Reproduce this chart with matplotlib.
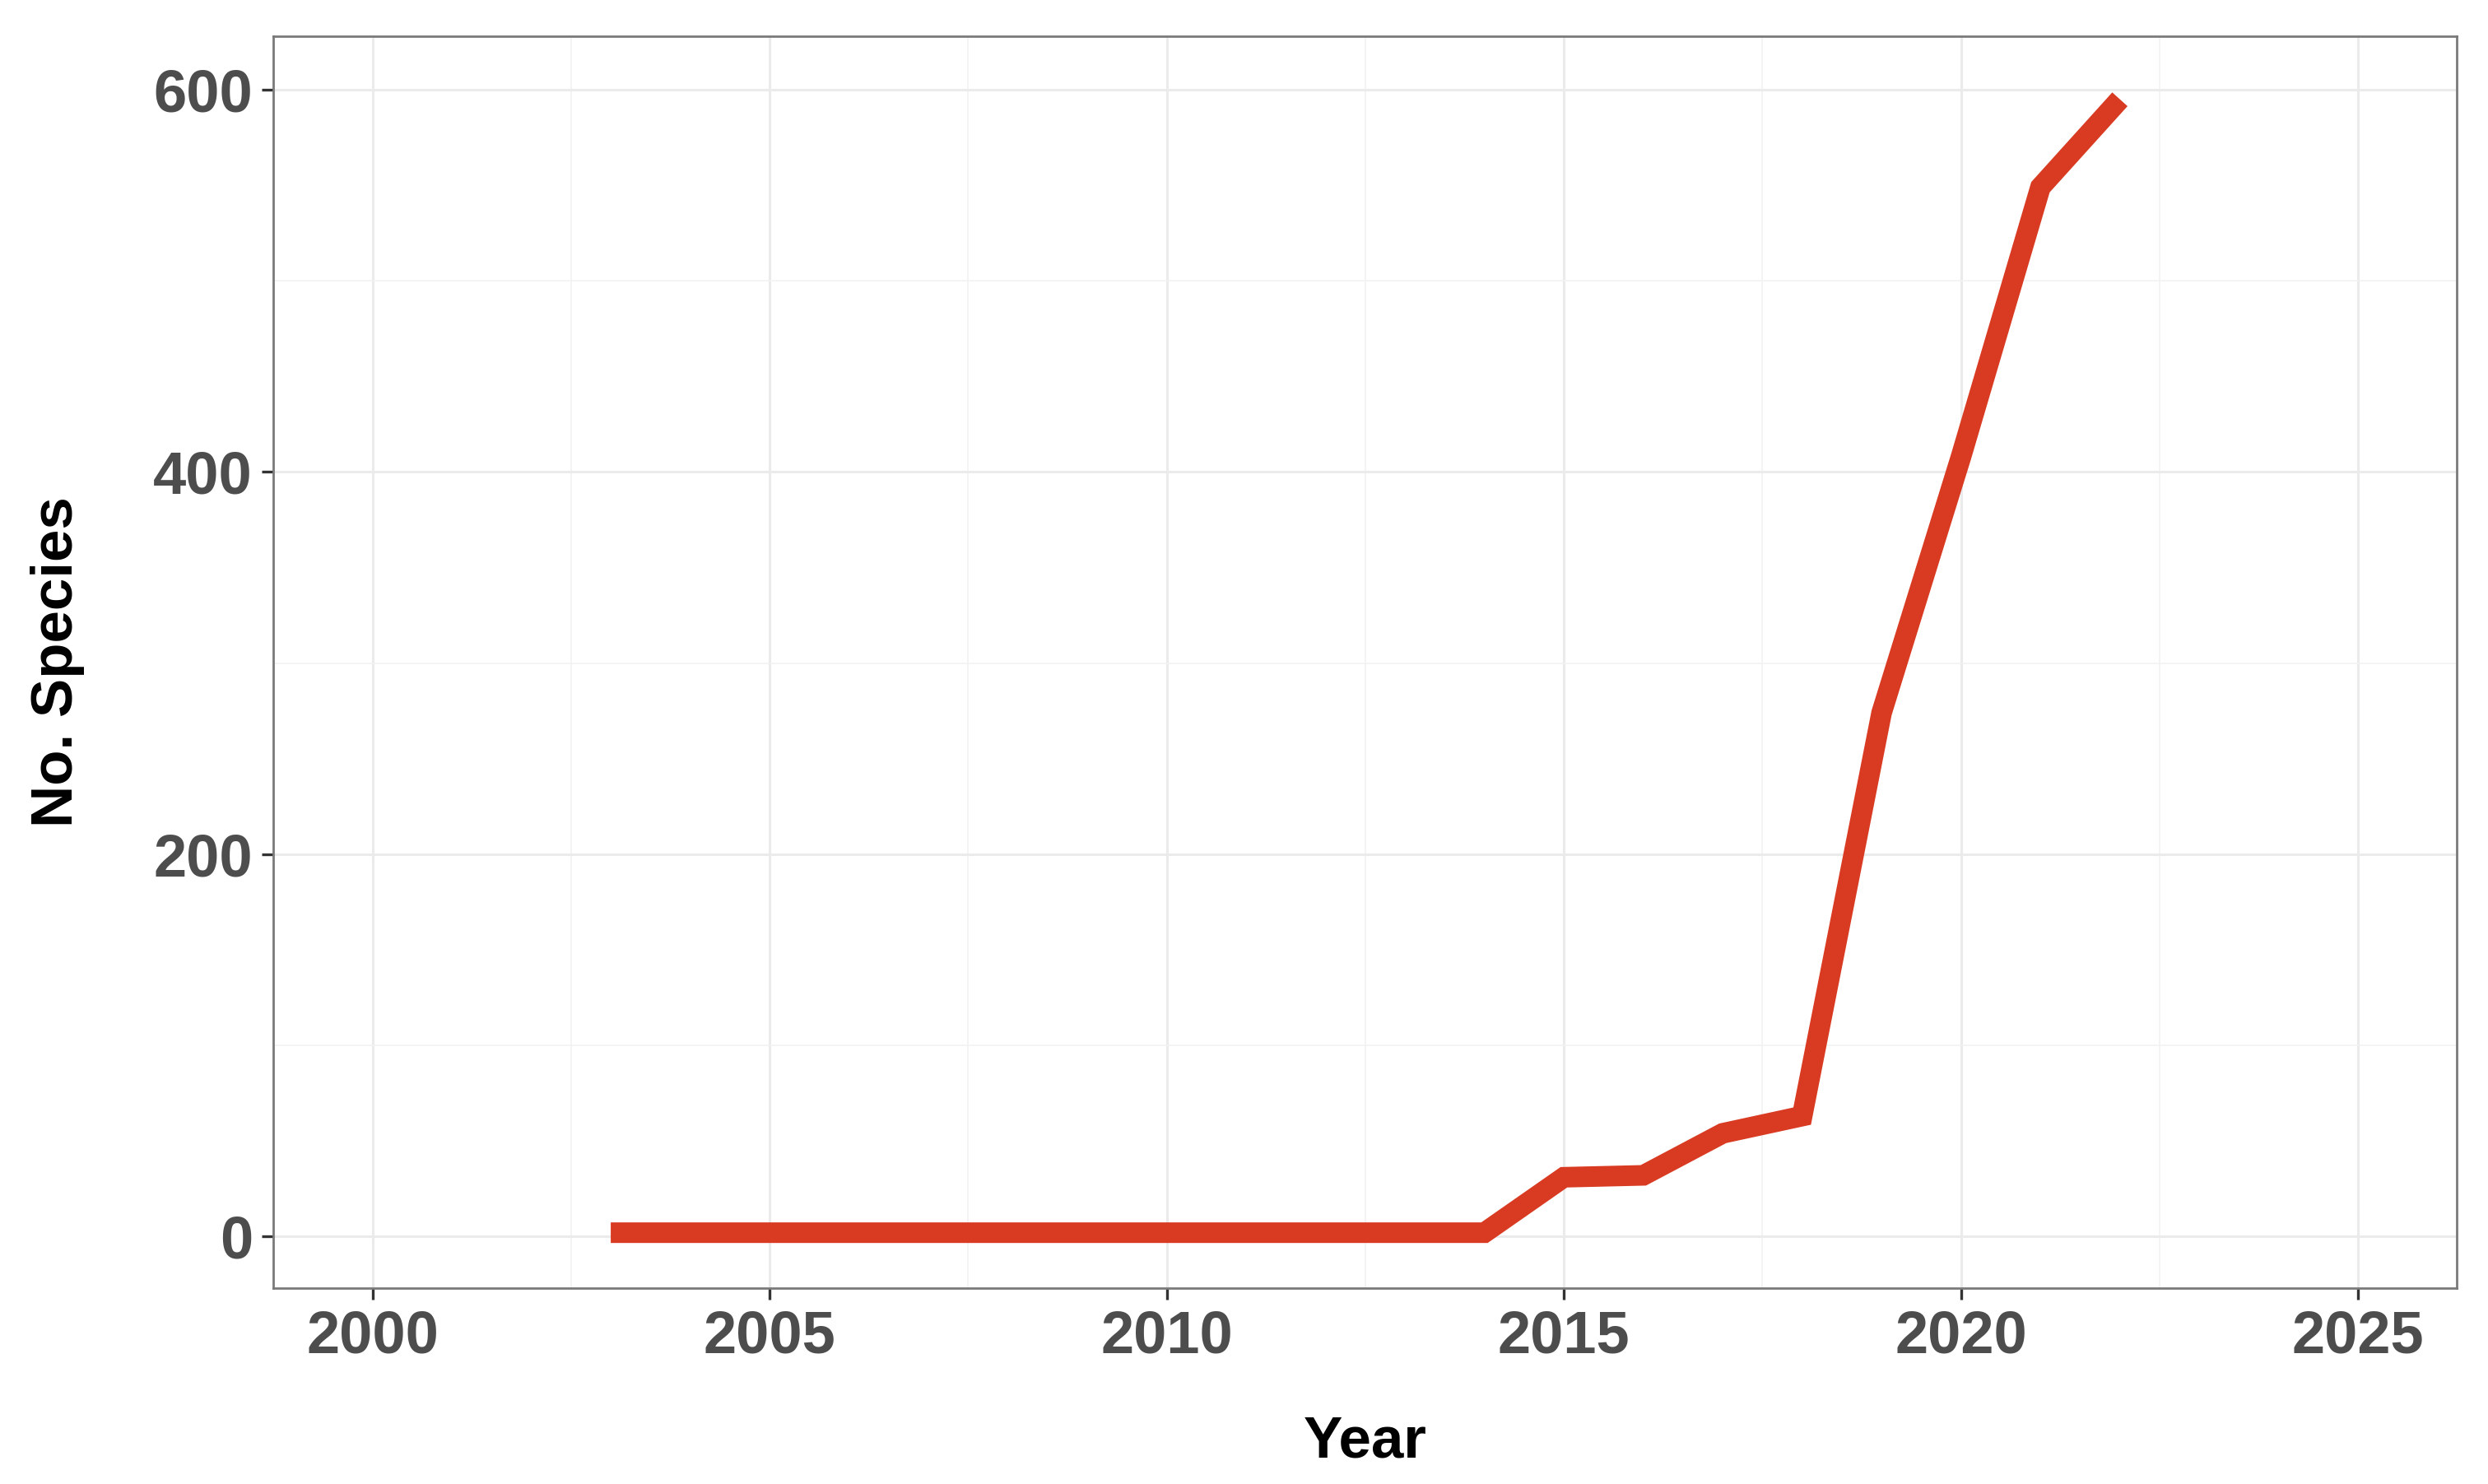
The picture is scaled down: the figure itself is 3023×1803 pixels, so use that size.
import matplotlib.pyplot as plt
from matplotlib.ticker import MultipleLocator

plt.rcParams['font.family'] = ['Liberation Sans', 'DejaVu Sans']

years = [2003, 2004, 2005, 2006, 2007, 2008, 2009, 2010, 2011, 2012,
         2013, 2014, 2015, 2016, 2017, 2018, 2019, 2020, 2021, 2022]
species = [2, 2, 2, 2, 2, 2, 2, 2, 2, 2,
           2, 2, 31, 32, 54, 63, 274, 408, 549, 595]

fig = plt.figure(figsize=(15.115, 9.015), dpi=200)
ax = fig.add_axes([0.1098, 0.132, 0.8776, 0.8436])

ax.plot(years, species, color='#D93A22', linewidth=9, solid_capstyle='butt',
        solid_joinstyle='miter', zorder=3)

ax.set_xlim(1998.75, 2026.24)
ax.set_ylim(-27, 628)
ax.xaxis.set_major_locator(MultipleLocator(5))
ax.xaxis.set_minor_locator(MultipleLocator(2.5))
ax.yaxis.set_major_locator(MultipleLocator(200))
ax.yaxis.set_minor_locator(MultipleLocator(100))

ax.grid(True, which='major', color='#EBEBEB', linewidth=1.1, zorder=0)
ax.grid(True, which='minor', color='#F2F2F2', linewidth=0.6, zorder=0)
ax.set_axisbelow(True)

for s in ax.spines.values():
    s.set_color('#7A7A7A')
    s.set_linewidth(1.0)

ax.tick_params(which='major', length=5, width=1.2, color='#333333',
               labelsize=26, labelcolor='#4D4D4D', pad=4)
ax.tick_params(which='minor', length=0)
for lab in ax.get_xticklabels() + ax.get_yticklabels():
    lab.set_fontweight('bold')

ax.set_xlabel('Year', fontsize=25.5, fontweight='bold', color='black', labelpad=22)
ax.set_ylabel('No. Species', fontsize=25.5, fontweight='bold', color='black', labelpad=30)

fig.savefig('out.png', dpi=200, facecolor='white')
